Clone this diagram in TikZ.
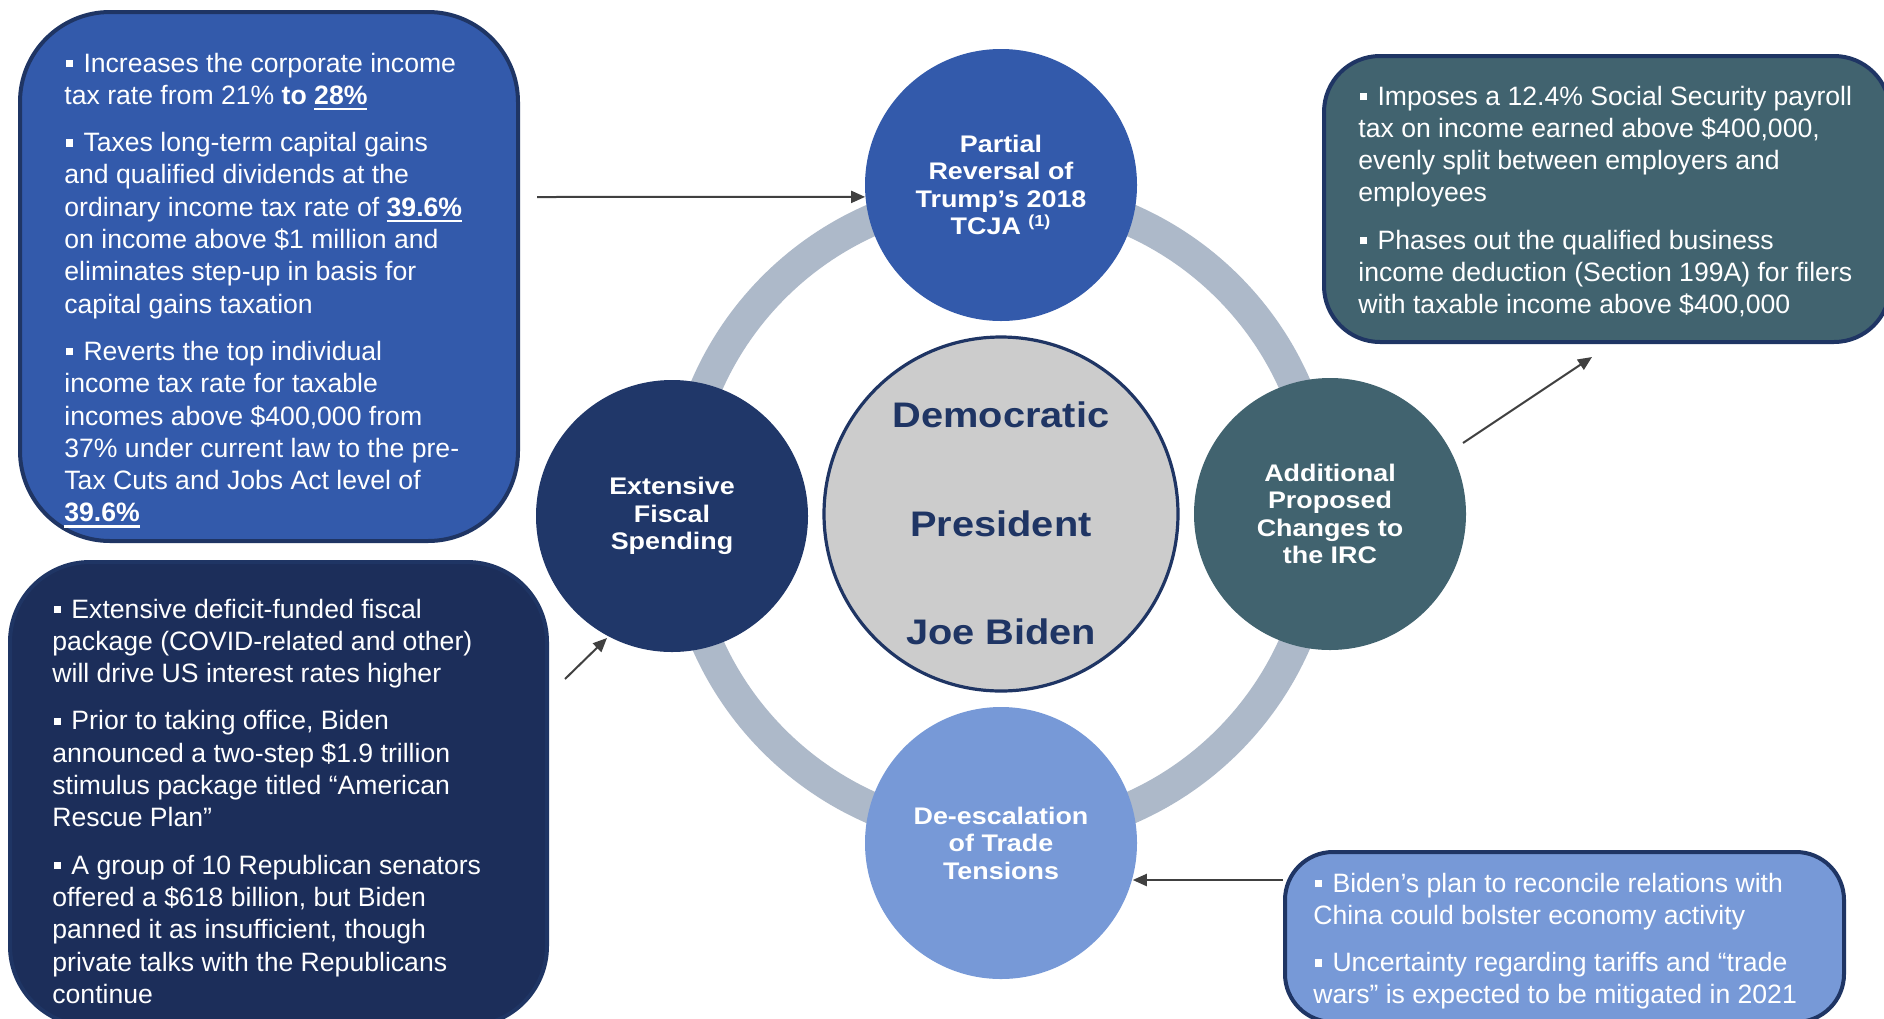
\documentclass[tikz,border=0pt]{standalone}
\usepackage{fontspec}
\setmainfont{Liberation Sans}
\newfontfamily\circfont[FakeStretch=1.12]{Liberation Sans}
\usetikzlibrary{arrows.meta}
\definecolor{midblue}{HTML}{335AAB}
\definecolor{navycirc}{HTML}{203769}
\definecolor{navybox}{HTML}{1C2E5A}
\definecolor{boxborder}{HTML}{1F3564}
\definecolor{tealgray}{HTML}{41636F}
\definecolor{lightblu}{HTML}{7799D7}
\definecolor{ringgray}{HTML}{ADB9C9}
\definecolor{centergray}{HTML}{CCCCCC}
\definecolor{arrowgray}{HTML}{404040}
\newcommand\bul{\hspace*{0.75pt}\rule[2.5pt]{3.6pt}{3.6pt}\hspace*{5.2pt}}
\newcommand\ulb[1]{\setbox0\hbox{\bfseries #1}\rlap{\rule[-2.9pt]{\wd0}{1.2pt}}\box0}
\newcommand\Lh[1]{\hbox{#1}}
\newcommand\pgap{\vskip7.5pt}
\begin{document}
\begin{tikzpicture}[x=0.5pt,y=-0.5pt,
  sat/.style={circle, minimum size=136pt, inner sep=0pt, text=white, align=center,
    font=\circfont\bfseries\fontsize{12}{13.75}\selectfont},
  infobox/.style={draw=boxborder, line width=2pt, anchor=north west, inner sep=0pt},
  boxtext/.style={anchor=base west, inner sep=0pt, text=white,
    font=\fontsize{13.3}{16.15}\selectfont},
  arr/.style={draw=arrowgray, line width=1pt, -{Triangle[length=7pt,width=6pt]}},
  centertxt/.style={anchor=base, inner sep=0pt, text=boxborder,
    font=\circfont\bfseries\fontsize{17.75}{20}\selectfont}
]
\useasboundingbox (0,0) rectangle (1884,1018);
\clip (0,0) rectangle (1884,1018);
\fill[white] (0,0) rectangle (1884,1018);

% ring
\coordinate (c0) at (1001,514);
\draw[ringgray, line width=16pt] (c0) circle[radius=160.5pt];

% satellite circles
\node[sat, fill=midblue] (top) at (1001,185) {Partial\\Reversal of\\Trump’s 2018\\TCJA \textsuperscript{(1)}};
\node[sat, fill=navycirc] (left) at (672,516) {Extensive\\Fiscal\\Spending};
\node[sat, fill=tealgray] (right) at (1330,514) {Additional\\Proposed\\Changes to\\the IRC};
\node[sat, fill=lightblu] (bot) at (1001,843) {De-escalation\\of Trade\\Tensions};

% centre circle
\node[circle, minimum size=177pt, inner sep=0pt, fill=centergray, draw=boxborder, line width=1.6pt] (pres) at (c0) {};
\node[centertxt] (t1) at (1001,427) {Democratic};
\node[centertxt] (t2) at (1001,536) {President};
\node[centertxt] (t3) at (1001,644) {Joe Biden};

% boxes
\node[infobox, fill=midblue, rounded corners=45pt, minimum width=249pt, minimum height=264.5pt] (tlbox) at (18,10) {};
\node[infobox, fill=navybox, rounded corners=40pt, minimum width=268.5pt, minimum height=232pt] (blbox) at (8,560) {};
\node[infobox, fill=tealgray, rounded corners=28pt, minimum width=283pt, minimum height=143pt] (trbox) at (1322,54) {};
\node[infobox, fill=lightblu, rounded corners=24pt, minimum width=279.5pt, minimum height=85pt] (brbox) at (1283,850) {};

% box texts
\node[boxtext] (tltext) at (64,72) {\vtop{%
\Lh{\bul Increases the corporate income}
\Lh{tax rate from 21\% \textbf{to} \ulb{28\%}}
\pgap
\Lh{\bul Taxes long-term capital gains}
\Lh{and qualified dividends at the}
\Lh{ordinary income tax rate of \ulb{39.6\%}}
\Lh{on income above \$1 million and}
\Lh{eliminates step-up in basis for}
\Lh{capital gains taxation}
\pgap
\Lh{\bul Reverts the top individual}
\Lh{income tax rate for taxable}
\Lh{incomes above \$400,000 from}
\Lh{37\% under current law to the pre-}
\Lh{Tax Cuts and Jobs Act level of}
\Lh{\ulb{39.6\%}}}};

\node[boxtext] (bltext) at (52,618) {\vtop{%
\Lh{\bul Extensive deficit-funded fiscal}
\Lh{package (COVID-related and other)}
\Lh{will drive US interest rates higher}
\pgap
\Lh{\bul Prior to taking office, Biden}
\Lh{announced a two-step \$1.9 trillion}
\Lh{stimulus package titled “American}
\Lh{Rescue Plan”}
\pgap
\Lh{\bul A group of 10 Republican senators}
\Lh{offered a \$618 billion, but Biden}
\Lh{panned it as insufficient, though}
\Lh{private talks with the Republicans}
\Lh{continue}}};

\node[boxtext] (trtext) at (1358,105) {\vtop{%
\Lh{\bul Imposes a 12.4\% Social Security payroll}
\Lh{tax on income earned above \$400,000,}
\Lh{evenly split between employers and}
\Lh{employees}
\pgap
\Lh{\bul Phases out the qualified business}
\Lh{income deduction (Section 199A) for filers}
\Lh{with taxable income above \$400,000}}};

\node[boxtext] (brtext) at (1313,892) {\vtop{%
\Lh{\bul Biden’s plan to reconcile relations with}
\Lh{China could bolster economy activity}
\pgap
\Lh{\bul Uncertainty regarding tariffs and “trade}
\Lh{wars” is expected to be mitigated in 2021}}};

% arrows
\coordinate (a1s) at (537,197);
\draw[arr] (a1s) -- (top.185);
\coordinate (a2s) at (1463,443);
\coordinate (a2e) at (1592,357);
\draw[arr] (a2s) -- (a2e);
\coordinate (a3s) at (565,679);
\coordinate (a3e) at (607,638);
\draw[arr] (a3s) -- (a3e);
\coordinate (a4s) at (1283,880);
\draw[arr] (a4s) -- (a4s -| bot.345);
\end{tikzpicture}
\end{document}
